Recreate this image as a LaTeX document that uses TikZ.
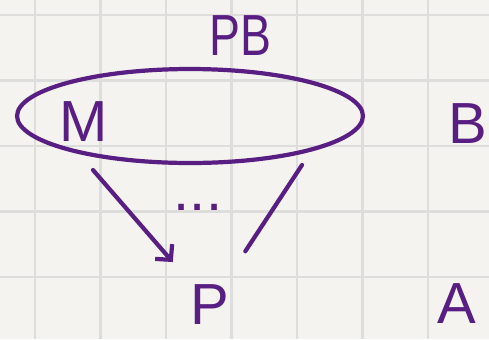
\documentclass[tikz,border=0pt]{standalone}
\usepackage{fontspec}
\setmainfont{Liberation Sans}
\usetikzlibrary{shapes.geometric,arrows.meta}
\definecolor{Paper}{RGB}{244,243,240}
\definecolor{Grid}{RGB}{221,221,219}
\definecolor{Ink}{RGB}{88,30,130}

\begin{document}
\begin{tikzpicture}[x=0.02cm,y=-0.02cm,
  ink/.style={Ink, line width=2.4pt, line cap=round, line join=round},
  letter/.style={text=Ink, font=\fontsize{33}{33}\selectfont, inner sep=0pt},
  >={Straight Barb[length=0.22cm,width=0.45cm]}]
\useasboundingbox (0,0) rectangle (489,339);
\clip (0,0) rectangle (489,339);
\fill[Paper] (0,0) rectangle (489,339);
\foreach \gx in {-30.5,35,100.5,166,231.5,297,362.5,428,493.5}
  \draw[Grid, line width=1.2pt] (\gx,0) -- (\gx,339);
\foreach \gy in {15,80.5,146,211.5,277,342.5}
  \draw[Grid, line width=1.2pt] (0,\gy) -- (489,\gy);

\node[ink, draw, ellipse, minimum width=6.92cm, minimum height=1.88cm, inner sep=0pt] (pb) at (190,116) {};
\node[letter, xscale=0.8] (pbname) at (240,36) {PB};
\node[letter] (m) at (84,122) {M};
\node[letter] (b) at (468,124) {B};
\node[letter] (dots) at (198,207) {...};
\node[letter] (p) at (210,305) {P};
\node[letter] (a) at (457,304) {A};

\coordinate (m1) at (93,170);
\coordinate (m2) at (302,165);
\draw[ink,->,shorten >=0.6cm] (m1) -- (p);
\draw[ink,shorten >=0.8cm] (m2) -- (p);
\end{tikzpicture}
\end{document}
